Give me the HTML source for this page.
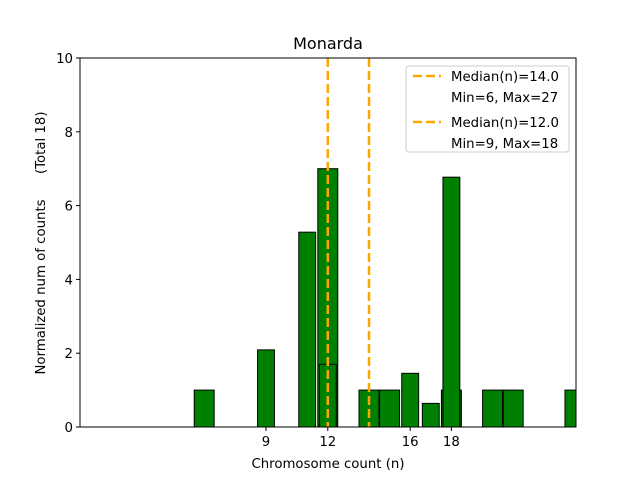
<!DOCTYPE html>
<html><head><meta charset="utf-8"><style>
body{margin:0;background:#fff}
svg text{font-family:"DejaVu Sans","Liberation Sans",sans-serif;fill:#000}
</style></head><body>
<svg id="chart" width="640" height="480" xmlns="http://www.w3.org/2000/svg">
<rect width="640" height="480" fill="#fff"/>
<text x="328" y="49" font-size="16" text-anchor="middle">Monarda</text>
<g id="bars"></g>
<g id="medians"></g>
<rect x="80" y="58" width="496" height="369" fill="none" stroke="#000" stroke-width="1"/>
<g id="xticks"></g>
<g id="yticks"></g>
<text x="328" y="468" font-size="13.3" text-anchor="middle">Chromosome count (n)</text>
<text transform="translate(45,243) rotate(-90)" font-size="13.3" text-anchor="middle" xml:space="preserve">Normalized num of counts      (Total 18)</text>
<g>
<rect x="406" y="66" width="163" height="86" rx="3" fill="#fff" fill-opacity="0.8" stroke="#ccc"/>
<line x1="413" y1="76" x2="441" y2="76" stroke="#FFA500" stroke-width="2.5" stroke-dasharray="9,4"/>
<text x="451" y="81" font-size="13.3">Median(n)=14.0</text>
<text x="451" y="102" font-size="13.3">Min=6, Max=27</text>
<line x1="413" y1="122" x2="441" y2="122" stroke="#FFA500" stroke-width="2.5" stroke-dasharray="9,4"/>
<text x="451" y="127" font-size="13.3">Median(n)=12.0</text>
<text x="451" y="148" font-size="13.3">Min=9, Max=18</text>
</g>
</svg>
<script>
const seriesAx=[6,12,14,15,18,20,21,24];
const seriesAy=[1,7,1,1,1,1,1,1];
const seriesBx=[9,11,12,16,17,18];
const seriesBy=[2.09,5.28,1.70,1.455,0.64,6.77];
const medians=[14,12];
const xTicks=[9,12,16,18];
const yTicks=[0,2,4,6,8,10];
const NS="http://www.w3.org/2000/svg";
const X0=80,X1=576,Y0=427,Y1=58,xmin=-0.03,xmax=24.05,ymin=0,ymax=10;
function sx(v){return X0+(v-xmin)/(xmax-xmin)*(X1-X0);}
function sy(v){return Y0-(v-ymin)/(ymax-ymin)*(Y0-Y1);}
function mk(t,a,p){const e=document.createElementNS(NS,t);for(const k in a)e.setAttribute(k,a[k]);p.appendChild(e);return e;}
const bars=document.getElementById('bars');
function drawBars(xs,ys,w,name){
  xs.forEach((x,i)=>{
    let l=sx(x-w/2),r=Math.min(sx(x+w/2),X1);
    const b=mk('rect',{x:l,y:sy(ys[i]),width:Math.max(0,r-l),height:sy(0)-sy(ys[i]),fill:'#008000',stroke:'#000','stroke-width':1},bars);
    
    
  });
}
drawBars(seriesAx,seriesAy,0.97,'series-a');
drawBars(seriesBx,seriesBy,0.82,'series-b');
const med=document.getElementById('medians');
medians.forEach(m=>{
  const l=mk('line',{x1:sx(m),x2:sx(m),y1:Y1,y2:Y0,stroke:'#FFA500','stroke-width':2.5,'stroke-dasharray':'9,4'},med);
  
  
});
const xt=document.getElementById('xticks');
xTicks.forEach(t=>{
  const l=mk('line',{x1:sx(t),x2:sx(t),y1:Y0,y2:Y0+4,stroke:'#000'},xt);
  
  
  const s=mk('text',{x:sx(t),y:Y0+19,'font-size':13.3,'text-anchor':'middle'},xt);
  s.textContent=t;
  
  
});
const yt=document.getElementById('yticks');
yTicks.forEach(t=>{
  const l=mk('line',{x1:X0-4,x2:X0,y1:sy(t),y2:sy(t),stroke:'#000'},yt);
  
  
  const s=mk('text',{x:X0-7,y:sy(t)+5,'font-size':13.3,'text-anchor':'end'},yt);
  s.textContent=t;
  
  
});
</script>
</body></html>
